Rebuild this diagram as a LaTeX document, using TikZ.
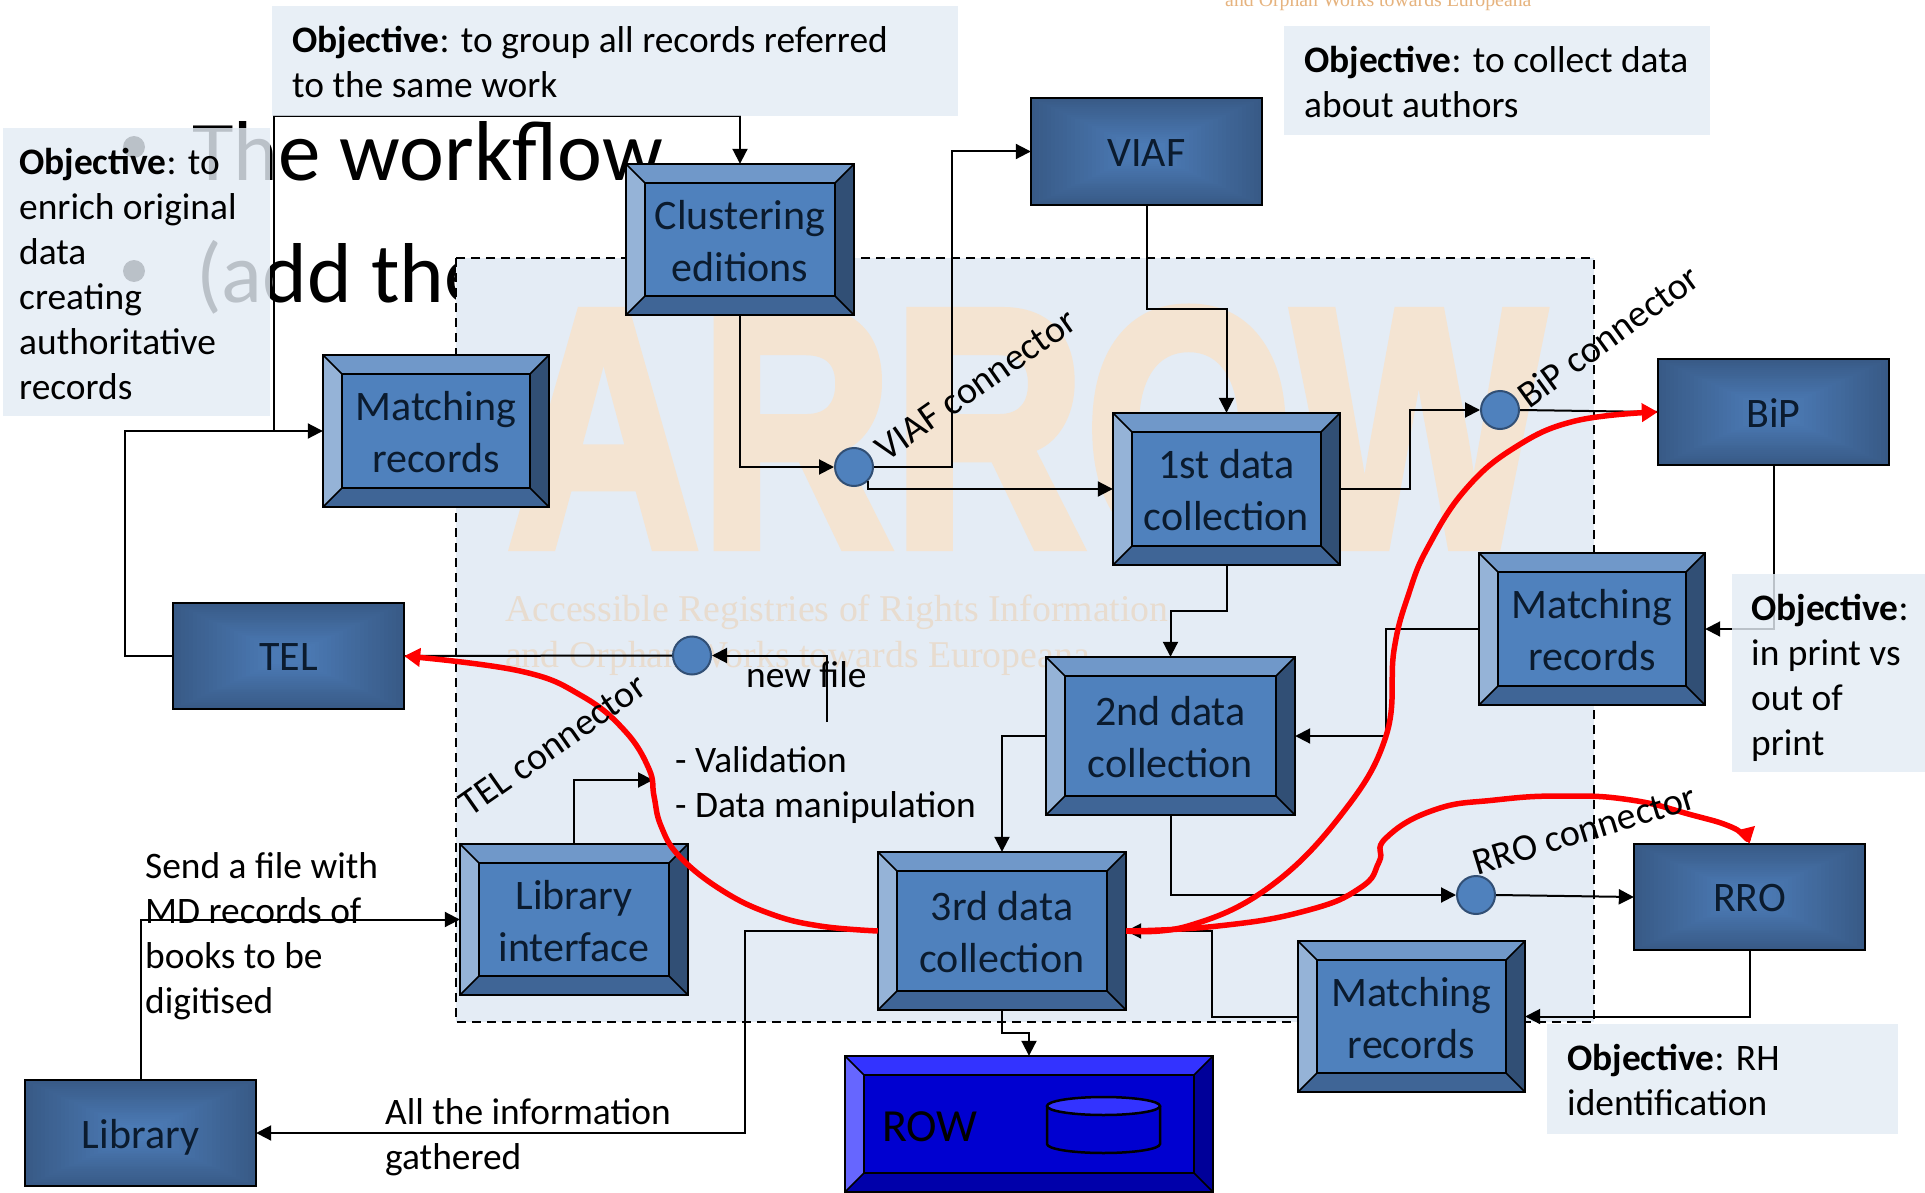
\documentclass[tikz,border=0pt]{standalone}
\usepackage{fontspec}
\setmainfont{Carlito}
\newfontfamily\wmserif{Liberation Serif}
\newfontfamily\wmsans[FakeBold=3]{Liberation Sans Bold}
\usetikzlibrary{arrows.meta}
\definecolor{blMain}{HTML}{4F81BD}
\definecolor{blTop}{HTML}{7098C9}
\definecolor{blLeft}{HTML}{95B3D7}
\definecolor{blRight}{HTML}{314F75}
\definecolor{blBot}{HTML}{3F6596}
\definecolor{roMain}{HTML}{0000D0}
\definecolor{roTop}{HTML}{3333FF}
\definecolor{roLeft}{HTML}{6666FF}
\definecolor{roRight}{HTML}{000099}
\definecolor{roBot}{HTML}{0000AA}
\definecolor{gradOut}{HTML}{385A86}
\definecolor{gradIn}{HTML}{4C7BB6}
\definecolor{objFill}{HTML}{E4ECF5}
\definecolor{inkBlue}{HTML}{0B1B2E}
\definecolor{wmOrange}{HTML}{F4E4D2}
\definecolor{wmText}{HTML}{E8DCCF}
\definecolor{wmTop}{HTML}{E6B37E}
\tikzset{
  x=1pt,y=-1pt,
  conn/.style={draw=black,line width=2pt},
  arr/.style={conn,-{Triangle[length=15pt,width=15pt]}},
  redc/.style={draw=red,line width=5.5pt,line join=round,-{Triangle[length=16pt,width=18pt]}},
  boxtext/.style={text=inkBlue,align=center,inner sep=0pt,font=\fontsize{42}{52}\selectfont},
  frame/.style={draw=black,line width=2.5pt},
  bevelline/.style={draw=black,line width=1.5pt},
  anchorbox/.style={inner sep=0pt,draw=none},
  dot/.style={circle,draw=blRight,line width=2pt,fill=blMain,minimum size=38pt,inner sep=0pt},
  objbox/.style={fill=objFill,fill opacity=0.82,draw=none},
  objtext/.style={anchor=north west,align=left,inner sep=0pt,text=black,font=\fontsize{37.4}{45}\selectfont},
  plainlabel/.style={anchor=north west,align=left,inner sep=0pt,text=black,font=\fontsize{37.4}{45}\selectfont},
  rotlabel/.style={inner sep=0pt,text=black,font=\fontsize{38}{44}\selectfont},
  slidetitle/.style={anchor=base west,inner sep=0pt,text=black,font=\fontsize{85}{100}\selectfont}
}
% prefix, name, x1, y1, x2, y2, text
\newcommand{\bevelbox}[7]{%
  \fill[#1Main] (#3,#4) rectangle (#5,#6);
  \fill[#1Top] (#3,#4) -- (#5,#4) -- ({#5-19},{#4+19}) -- ({#3+19},{#4+19}) -- cycle;
  \fill[#1Left] (#3,#4) -- ({#3+19},{#4+19}) -- ({#3+19},{#6-19}) -- (#3,#6) -- cycle;
  \fill[#1Right] (#5,#4) -- ({#5-19},{#4+19}) -- ({#5-19},{#6-19}) -- (#5,#6) -- cycle;
  \fill[#1Bot] (#3,#6) -- ({#3+19},{#6-19}) -- ({#5-19},{#6-19}) -- (#5,#6) -- cycle;
  \draw[bevelline] (#3,#4) -- ({#3+19},{#4+19}) (#5,#4) -- ({#5-19},{#4+19})
        (#3,#6) -- ({#3+19},{#6-19}) (#5,#6) -- ({#5-19},{#6-19});
  \draw[bevelline] ({#3+19},{#4+19}) rectangle ({#5-19},{#6-19});
  \draw[frame] (#3,#4) rectangle (#5,#6);
  \node[anchorbox,minimum width={(#5-#3)*1pt},minimum height={(#6-#4)*1pt}] (#2) at ({(#3+#5)/2},{(#4+#6)/2}) {};
  \node[boxtext] (#2text) at ({(#3+#5)/2},{(#4+#6)/2+1.5}) {#7};
}
% name, x1, y1, x2, y2, text
\newcommand{\gradbox}[6]{%
  \foreach \k in {0,...,24}{%
    \pgfmathtruncatemacro{\mixv}{\k*4}%
    \fill[gradIn!\mixv!gradOut] ({#2+\k*(#4-#2)*0.0175},{#3+\k*(#5-#3)*0.0175}) rectangle ({#4-\k*(#4-#2)*0.0175},{#5-\k*(#5-#3)*0.0175});
  }
  \draw[frame] (#2,#3) rectangle (#4,#5);
  \node[anchorbox,minimum width={(#4-#2)*1pt},minimum height={(#5-#3)*1pt}] (#1) at ({(#2+#4)/2},{(#3+#5)/2}) {};
  \node[boxtext] (#1text) at ({(#2+#4)/2},{(#3+#5)/2+1.5}) {#6};
}
\begin{document}
\begin{tikzpicture}
\useasboundingbox (0,0) rectangle (1925,1193);
\fill[white] (0,0) rectangle (1925,1193);
% slide underneath
\node[anchor=base west,inner sep=0pt,text=wmTop,font=\wmserif\fontsize{19.8}{22}\selectfont] (stripetext) at (1225,7) {and Orphan Works towards Europeana};
\node[slidetitle] (title1) at (192,181) {The workflow};
\node[slidetitle] (title2) at (196,302) {(add the};
\fill[black] (134,147) circle (11);
\fill[black] (134,271) circle (11);
% dashed zone
\fill[objFill] (456,258) rectangle (1594,1022);
\node[inner sep=0pt,text=wmOrange,font=\wmsans\fontsize{340}{340}\selectfont,xscale=0.785,anchor=base] (wm) at (1026,546) {ARROW};
\node[anchor=base west,inner sep=0pt,text=wmText,font=\wmserif\fontsize{37.8}{44}\selectfont] (wm1) at (505,621) {Accessible Registries of Rights Information};
\node[anchor=base west,inner sep=0pt,text=wmText,font=\wmserif\fontsize{37.8}{44}\selectfont] (wm2) at (505,667) {and Orphan Works towards Europeana};
\draw[black,line width=2pt,dash pattern=on 9pt off 6pt] (456,258) rectangle (1594,1022);
% free ends
\coordinate (junc) at (274,431);
\coordinate (topc) at (274,116);
\coordinate (nf) at (827,722);
\coordinate (vm) at (653,780);
% nodes placed first (for connectors), drawn in order
\node[dot] (c1) at (854,467) {};
\node[dot] (c2) at (1500,410) {};
\node[dot] (c3) at (1476,895) {};
\node[dot] (c4) at (692,655.5) {};
\bevelbox{bl}{clu}{626}{164}{854}{315}{Clustering\\editions}
\bevelbox{bl}{mat1}{323}{355}{549}{507}{Matching\\records}
\bevelbox{bl}{d1}{1113}{413}{1340}{565}{1st data\\collection}
\bevelbox{bl}{mat2}{1479}{553}{1705}{705}{Matching\\records}
\bevelbox{bl}{d2}{1046}{657}{1295}{815}{2nd data\\collection}
\bevelbox{bl}{li}{460}{844}{688}{995}{Library\\interface}
\bevelbox{bl}{d3}{878}{852}{1126}{1010}{3rd data\\collection}
\bevelbox{bl}{mat3}{1298}{941}{1525}{1092}{Matching\\records}
\bevelbox{ro}{row}{845}{1056}{1213}{1192}{}
\gradbox{viaf}{1031}{98}{1262}{205}{VIAF}
\gradbox{bip}{1658}{359}{1889}{465}{BiP}
\gradbox{tel}{173}{603}{404}{709}{TEL}
\gradbox{rro}{1634}{844}{1865}{950}{RRO}
\gradbox{lib}{25}{1080}{256}{1186}{\smash{\raisebox{-14pt}{Library}}}
% ROW contents
\node[inner sep=0pt,text=black,font=\fontsize{46}{52}\selectfont] (rowtext) at (930,1127) {ROW};
\draw[frame,fill=roMain] (1047,1106) -- (1047,1144) arc[start angle=180,end angle=360,x radius=56.5,y radius=-9] -- (1160,1106);
\draw[frame,fill=roTop] (1103.5,1106) ellipse[x radius=56.5,y radius=9];
% connectors
\draw[arr] (junc) -- (topc) -| (clu.north);
\draw[arr] (tel.west) -- ++(-48,0) |- (mat1.west);
\draw[arr] (clu.south) |- (c1.west);
\draw[arr] (c1.east) -- ++(78,0) |- (viaf.west);
\draw[arr] (c1.south east) |- (d1.west);
\draw[arr] (viaf.south) -- ++(0,104) -| (d1.north);
\draw[arr] (d1.east) -- ++(70,0) |- (c2.west);
\draw[conn] (c2.east) -- (bip.west);
\draw[arr] (bip.south) |- (mat2.east);
\draw[arr] (mat2.west) -- ++(-93,0) |- (d2.east);
\draw[arr] (d1.south) -- ++(0,46) -| (d2.north);
\draw[arr] (d2.west) -| (d3.north);
\draw[arr] (d2.south) |- (c3.west);
\draw[arr] (c3.east) -- (rro.west);
\draw[arr] (rro.south) |- (mat3.east);
\draw[arr] (mat3.west) -- ++(-86,0) |- (d3.east);
\draw[arr] (d3.south) -- ++(0,23) -| (row.north);
\draw[arr] (d3.west) -- ++(-133,0) |- (lib.east);
\draw[arr] (lib.north) |- (li.west);
\draw[arr] (li.north) |- (vm);
\draw[conn] (c4.west) -- (tel.east);
\draw[arr] (nf) |- (c4.east);
% objective boxes
\fill[objbox] (272,6) rectangle (958,116);
\fill[objbox] (3,128) rectangle (270,416);
\fill[objbox] (1284,26) rectangle (1710,135);
\fill[objbox] (1732,574) rectangle (1925,772);
\fill[objbox] (1547,1024) rectangle (1898,1134);
\node[objtext] (o1) at (292,26) {\textbf{Objective}: to group all records referred\\to the same work};
\node[objtext] (o2) at (19,148) {\textbf{Objective}: to\\enrich original\\data\\creating\\authoritative\\records};
\node[objtext] (o3) at (1304,46) {\textbf{Objective}: to collect data\\about authors};
\node[objtext] (o4) at (1751,594) {\textbf{Objective}:\\in print vs\\out of\\print};
\node[objtext] (o5) at (1567,1044) {\textbf{Objective}: RH\\identification};
% red connectors
\draw[redc] plot[smooth,tension=0.7] coordinates {(d3.west) (820,926) (771,914) (723,891) (680,857) (661,826) (654,796) (649,769) (625,731) (582,696) (520,671) (tel.east)};
\draw[redc] plot[smooth,tension=0.7] coordinates {(d3.east) (1188,926) (1268,888) (1341,815) (1386,736) (1394,650) (1409,593) (1428,547) (1465,490) (1514,448) (1575,421) (bip.west)};
\draw[redc] plot[smooth,tension=0.8] coordinates {(d3.east) (1218,926) (1305,911) (1360,888) (1379,862) (1386,838) (1434,810) (1495,800) (1563,796) (1631,800) (1692,815) (1729,826) (1744,836) (rro.north)};
% labels
\node[rotlabel,rotate=35] (lviaf) at (976,385) {VIAF connector};
\node[rotlabel,rotate=36] (lbip) at (1608,336) {BiP connector};
\node[rotlabel,rotate=35] (ltel) at (553,745) {TEL connector};
\node[rotlabel,rotate=17] (lrro) at (1584,830) {RRO connector};
\node[plainlabel] (lnew) at (746,661) {new file};
\node[plainlabel] (lval) at (675,746) {- Validation\\- Data manipulation};
\node[plainlabel] (lsend) at (145,852) {Send a file with\\MD records of\\books to be\\digitised};
\node[plainlabel] (lall) at (385,1098) {All the information\\gathered};
\end{tikzpicture}
\end{document}
